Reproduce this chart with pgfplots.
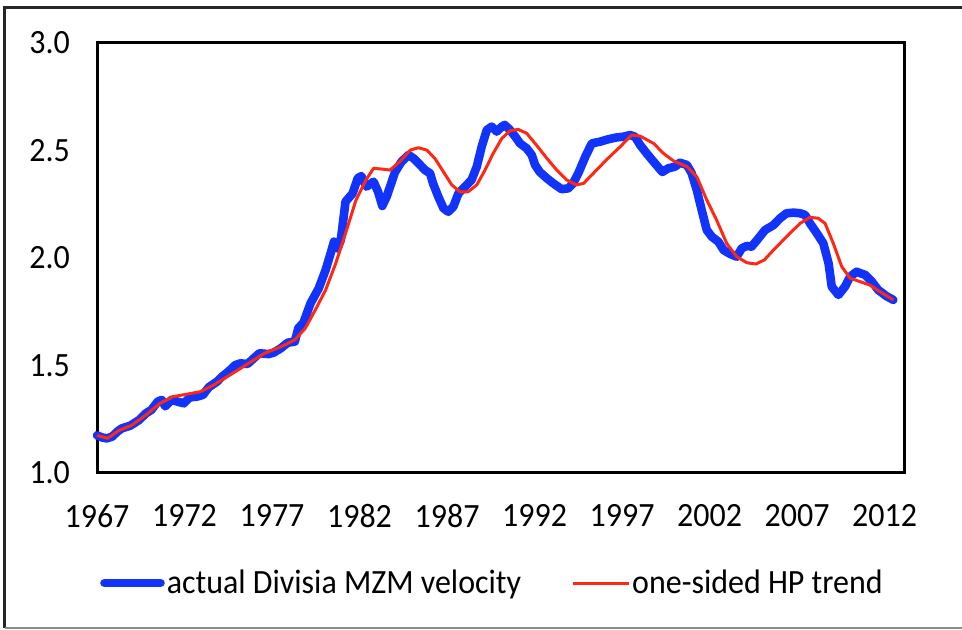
\documentclass[border=0pt]{standalone}
\usepackage{pgfplots}
\pgfplotsset{compat=1.18}
\usepackage{fontspec}
\setmainfont{Carlito}[FakeStretch=0.94]
\definecolor{vblue}{RGB}{18,52,250}
\definecolor{hpred}{RGB}{255,40,20}
\begin{document}
\begin{tikzpicture}[x=1pt,y=1pt]
% canvas: 1 px = 0.5 pt, origin at axis lower-left (px 97,473)
\path[use as bounding box] (-48.5,-78.5) rectangle (432.5,236.5);
\draw[line width=1.5pt,black!85] (432.5,232.5) -- (-46,232.5) -- (-46,-77.5);
\draw[line width=1pt,black!45] (-46,-77.5) -- (432.5,-77.5);
\begin{axis}[
  at={(0,0)}, anchor=south west,
  scale only axis, width=403.5pt, height=215pt,
  xmin=1967, xmax=2013.11, ymin=1, ymax=3,
  axis line style={line width=1.5pt,black},
  xtick={1967,1972,...,2012},
  ytick={1,1.5,2,2.5,3},
  major tick length=0pt,
  /pgf/number format/assume math mode=true,
  xticklabel style={/pgf/number format/1000 sep={}, yshift=-12pt},
  yticklabel style={/pgf/number format/fixed,/pgf/number format/fixed zerofill,/pgf/number format/precision=1, xshift=-10pt},
  tick label style={font=\fontsize{17}{20}\selectfont},
  legend style={draw=none, at={(0.49,-0.256)}, anchor=center, font=\fontsize{17}{20}\selectfont,
    /tikz/every even column/.append style={column sep=24pt}, inner sep=0pt,
    nodes={inner xsep=1pt}},
  legend columns=2,
  legend cell align=left,
  legend image code/.code={\draw[#1] (0pt,0pt) -- (28pt,0pt);},
  clip=false,
]
\addplot[vblue, line width=4.3pt, line join=round, line cap=round] coordinates {
(1967.0,1.175) (1967.3,1.165) (1967.57,1.161) (1967.86,1.169) (1968.2,1.195) (1968.43,1.208)
(1968.9,1.22) (1969.4,1.246) (1969.8,1.278) (1970.1,1.293) (1970.47,1.332) (1970.7,1.34)
(1970.9,1.31) (1971.25,1.34) (1971.6,1.332) (1971.96,1.324) (1972.3,1.352) (1972.7,1.355)
(1973.05,1.363) (1973.4,1.40) (1973.86,1.425) (1974.14,1.448) (1974.5,1.471) (1974.9,1.502)
(1975.2,1.51) (1975.6,1.507) (1975.95,1.533) (1976.28,1.557) (1976.8,1.553) (1977.1,1.56)
(1977.5,1.58) (1977.9,1.606) (1978.3,1.611) (1978.5,1.673) (1978.8,1.70) (1979.2,1.789)
(1979.67,1.859) (1980.06,1.944) (1980.35,2.022) (1980.54,2.076) (1980.74,2.045) (1980.93,2.084)
(1981.2,2.262) (1981.6,2.30) (1981.9,2.371) (1982.1,2.381) (1982.4,2.332) (1982.8,2.355)
(1983.06,2.308) (1983.3,2.242) (1983.55,2.285) (1984.03,2.40) (1984.4,2.448) (1984.8,2.479)
(1985.08,2.464) (1985.46,2.433) (1985.74,2.409) (1986.03,2.394) (1986.2,2.347) (1986.5,2.285)
(1986.8,2.231) (1987.07,2.215) (1987.36,2.239) (1987.65,2.30) (1988.03,2.332) (1988.4,2.363)
(1988.7,2.425) (1988.98,2.518) (1989.27,2.595) (1989.55,2.611) (1989.84,2.588) (1990.13,2.611)
(1990.3,2.619) (1990.6,2.595) (1990.9,2.564) (1991.17,2.533) (1991.55,2.51) (1991.84,2.479)
(1992.03,2.433) (1992.3,2.40) (1992.7,2.371) (1993.07,2.347) (1993.55,2.32) (1993.93,2.324)
(1994.2,2.347) (1994.5,2.394) (1994.9,2.471) (1995.27,2.533) (1995.74,2.541) (1996.2,2.552)
(1996.7,2.561) (1997.07,2.564) (1997.46,2.572) (1997.74,2.564) (1998.03,2.526) (1998.4,2.487)
(1998.8,2.448) (1999.3,2.40) (1999.64,2.417) (2000.03,2.425) (2000.3,2.443) (2000.7,2.433)
(2000.98,2.394) (2001.27,2.316) (2001.55,2.223) (2001.84,2.13) (2002.13,2.099) (2002.5,2.076)
(2002.8,2.037) (2003.17,2.019) (2003.55,2.006) (2003.84,2.045) (2004.13,2.056) (2004.4,2.053)
(2004.8,2.092) (2005.17,2.13) (2005.65,2.153) (2006.03,2.185) (2006.4,2.208) (2006.8,2.211)
(2007.17,2.208) (2007.46,2.20) (2007.74,2.161) (2008.13,2.115) (2008.5,2.068) (2008.8,1.975)
(2008.98,1.867) (2009.36,1.828) (2009.74,1.867) (2010.03,1.913) (2010.4,1.936) (2010.9,1.921)
(2011.27,1.89) (2011.64,1.851) (2012.1,1.823) (2012.5,1.805)
};
\addlegendentry{actual Divisia MZM velocity}
\addplot[hpred, line width=1.5pt, line join=round] coordinates {
(1967.0,1.175) (1967.6,1.161) (1968.24,1.197) (1969.0,1.223) (1969.8,1.27) (1970.6,1.324)
(1971.34,1.355) (1972.1,1.366) (1972.9,1.378) (1973.66,1.409) (1974.6,1.456) (1975.6,1.507)
(1976.57,1.557) (1977.5,1.587) (1978.3,1.619) (1978.9,1.673) (1979.47,1.758) (1980.06,1.851)
(1980.64,1.975) (1981.2,2.115) (1981.8,2.27) (1982.37,2.363) (1982.8,2.417) (1983.35,2.413)
(1983.74,2.409) (1984.3,2.448) (1984.9,2.502) (1985.36,2.513) (1985.84,2.502) (1986.3,2.464)
(1986.8,2.40) (1987.27,2.34) (1987.74,2.308) (1988.2,2.308) (1988.7,2.34) (1989.17,2.409)
(1989.64,2.487) (1990.13,2.556) (1990.6,2.592) (1991.07,2.598) (1991.55,2.58) (1992.1,2.526)
(1992.7,2.464) (1993.27,2.409) (1993.84,2.363) (1994.4,2.34) (1994.8,2.347) (1995.36,2.394)
(1996.1,2.456) (1996.9,2.518) (1997.55,2.572) (1998.03,2.567) (1998.8,2.533) (1999.36,2.487)
(1999.93,2.452) (2000.7,2.425) (2001.27,2.378) (2001.84,2.27) (2002.4,2.177) (2002.98,2.068)
(2003.55,2.006) (2004.13,1.978) (2004.65,1.972) (2005.13,1.991) (2005.65,2.037) (2006.4,2.099)
(2007.17,2.161) (2007.74,2.189) (2008.2,2.185) (2008.6,2.161) (2009.07,2.068) (2009.55,1.96)
(2010.03,1.906) (2010.6,1.89) (2011.17,1.874) (2011.74,1.843) (2012.5,1.805)
};
\addlegendentry{one-sided HP trend}
\end{axis}
\end{tikzpicture}
\end{document}
